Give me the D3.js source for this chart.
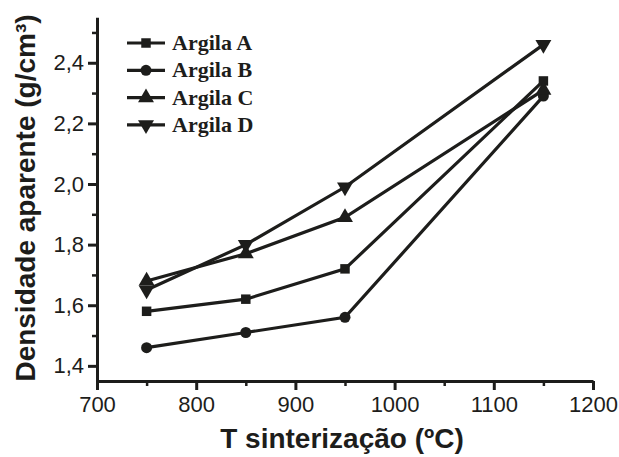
<!DOCTYPE html>
<html>
<head>
<meta charset="utf-8">
<script src="https://cdn.jsdelivr.net/npm/d3@7"></script>
<style>
  body { margin: 0; background: #fff; }
  svg { display: block; }
</style>
</head>
<body>
<div id="my_chart"></div>
<script>
// data
var temperatures = [750, 850, 950, 1150];
var argilaA = [1.58, 1.62, 1.72, 2.34];
var argilaB = [1.46, 1.51, 1.56, 2.29];
var argilaC = [1.68, 1.77, 1.89, 2.31];
var argilaD = [1.65, 1.80, 1.99, 2.46];
var seriesNames = ["Argila A", "Argila B", "Argila C", "Argila D"];
var xTicks = [700, 800, 900, 1000, 1100, 1200];
var yTicks = [1.4, 1.6, 1.8, 2.0, 2.2, 2.4];

var ink = "#1d1d1b";
var sans = "'Liberation Sans', Arial, sans-serif";
var serif = "'Liberation Serif', 'Times New Roman', serif";
var width = 619, height = 457;

var svg = d3.select("#my_chart")
  .append("svg")
    .attr("width", width)
    .attr("height", height);

var x = d3.scaleLinear().domain([700, 1200]).range([97, 593]);
var y = d3.scaleLinear().domain([1.35, 2.55]).range([381, 17.3]);

// minor ticks
svg.append("g")
  .attr("transform", "translate(0," + y(1.35) + ")")
  .call(d3.axisBottom(x).tickValues([750, 850, 950, 1050, 1150]).tickSize(5).tickFormat(""))
  .call(function(g) { g.select(".domain").remove(); })
  .selectAll("line").attr("stroke", ink).attr("stroke-width", 2.5);
svg.append("g")
  .attr("transform", "translate(" + x(700) + ",0)")
  .call(d3.axisLeft(y).tickValues([1.5, 1.7, 1.9, 2.1, 2.3, 2.5]).tickSize(5).tickFormat(""))
  .call(function(g) { g.select(".domain").remove(); })
  .selectAll("line").attr("stroke", ink).attr("stroke-width", 2.5);

// X axis
var xAxis = svg.append("g")
  .attr("transform", "translate(0," + y(1.35) + ")")
  .call(d3.axisBottom(x).tickValues(xTicks).tickSize(9).tickSizeOuter(0).tickPadding(6)
    .tickFormat(d3.format("d")));
xAxis.select(".domain").attr("stroke", ink).attr("stroke-width", 3);
xAxis.selectAll("line").attr("stroke", ink).attr("stroke-width", 3);
xAxis.selectAll("text")
  .attr("fill", ink)
  .style("font-family", sans)
  .style("font-size", "22px");

// Y axis
var yAxis = svg.append("g")
  .attr("transform", "translate(" + x(700) + ",0)")
  .call(d3.axisLeft(y).tickValues(yTicks).tickSize(9).tickSizeOuter(0).tickPadding(4)
    .tickFormat(function(d) { return d3.format(".1f")(d).replace(".", ","); }));
yAxis.select(".domain").attr("stroke", ink).attr("stroke-width", 3);
yAxis.selectAll("line").attr("stroke", ink).attr("stroke-width", 3);
yAxis.selectAll("text")
  .attr("fill", ink)
  .style("font-family", sans)
  .style("font-size", "22px");

// axis titles
svg.append("text")
  .attr("x", 342)
  .attr("y", 448)
  .attr("text-anchor", "middle")
  .attr("fill", ink)
  .style("font-family", sans)
  .style("font-weight", "bold")
  .style("font-size", "28px")
  .text("T sinterização (ºC)");

svg.append("text")
  .attr("transform", "translate(35,198)rotate(-90)")
  .attr("text-anchor", "middle")
  .attr("fill", ink)
  .style("font-family", sans)
  .style("font-weight", "bold")
  .style("font-size", "28px")
  .text("Densidade aparente (g/cm³)");

// series
var allSeries = [argilaA, argilaB, argilaC, argilaD];
var symbols = [
  d3.symbol().type(d3.symbolSquare).size(90),
  d3.symbol().type(d3.symbolCircle).size(95),
  d3.symbol().type(d3.symbolTriangle).size(110),
  d3.symbol().type(d3.symbolTriangle).size(110)
];
var symRotate = [0, 0, 0, 180];

var line = d3.line()
  .x(function(d, i) { return x(temperatures[i]); })
  .y(function(d) { return y(d); });

allSeries.forEach(function(vals, s) {
  svg.append("path")
    .datum(vals)
    .attr("d", line)
    .attr("fill", "none")
    .attr("stroke", ink)
    .attr("stroke-width", 3.2);
  svg.selectAll(".m" + s)
    .data(vals)
    .enter()
    .append("path")
    .attr("d", symbols[s])
    .attr("transform", function(d, i) {
      return "translate(" + x(temperatures[i]) + "," + y(d) + ")rotate(" + symRotate[s] + ")";
    })
    .attr("fill", ink);
});

// legend
var legend = svg.append("g");
seriesNames.forEach(function(name, s) {
  var ly = 43 + s * 27.3;
  legend.append("line")
    .attr("x1", 127).attr("x2", 165)
    .attr("y1", ly).attr("y2", ly)
    .attr("stroke", ink).attr("stroke-width", 3.2);
  legend.append("path")
    .attr("d", symbols[s])
    .attr("transform", "translate(146," + ly + ")rotate(" + symRotate[s] + ")")
    .attr("fill", ink);
  legend.append("text")
    .attr("x", 172)
    .attr("y", ly + 7)
    .attr("fill", ink)
    .style("font-family", serif)
    .style("font-weight", "bold")
    .style("font-size", "22px")
    .text(name);
});
</script>
</body>
</html>
